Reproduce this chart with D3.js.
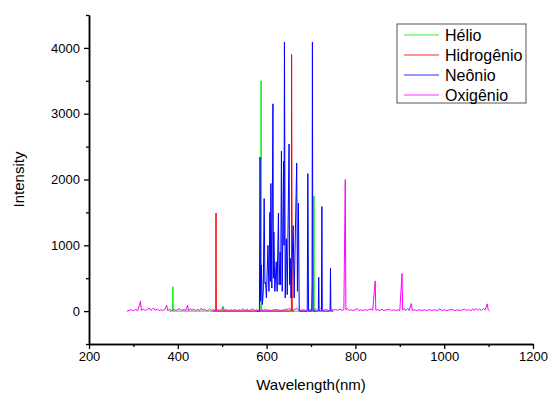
<!DOCTYPE html>
<html>
<head>
<meta charset="utf-8">
<script src="https://cdn.jsdelivr.net/npm/d3@7"></script>
<style>
body { margin: 0; background: #fff; }
text { font-family: Arial, "Liberation Sans", sans-serif; fill: #000; }
</style>
</head>
<body>
<svg id="mainSvg" width="557" height="406"></svg>
<script>
// spectra: [wavelength (nm), intensity]
var helio = [[380,0],[388.3,0],[388.9,370],[389.5,0],[501.0,0],[501.6,75],[502.2,0],
  [587.0,0],[587.6,3500],[588.2,0],[705.9,0],[706.5,1750],[707.1,0],[712,0]];

var hidrogenio = [[478,0],[485.5,0],[485.8,1150],[486.1,1490],[486.7,0],
  [655.8,0],[656.3,3900],[657.3,1250],[657.8,0],[662,0]];

var neonio = [[578,0],[583.8,0],[585.2,2340],[586.4,150],[588.2,700],[590.6,100],[592.5,300],
  [594.5,1710],[596.2,420],[597.6,440],[599.6,200],[603.0,1000],[605.3,300],[607.4,1500],
  [608.5,450],[609.6,1940],[611.8,350],[614.3,3150],[615.3,500],[616.4,1200],[618.5,300],
  [621.7,750],[623.7,300],[626.6,1490],[628.2,400],[630.5,900],[631.7,400],[633.4,2430],
  [635.2,300],[638.3,2280],[639.2,1000],[640.2,4090],[642.0,200],[644.5,1100],[646.5,250],
  [650.6,2540],[651.8,400],[653.3,800],[655.0,200],[659.9,1300],[662.0,200],[667.8,2250],
  [669.5,300],[671.7,1640],[673.5,0],[691.5,0],[692.9,2090],[694.5,0],[701.5,0],[702.4,420],
  [703.2,4090],[704.3,0],[716.5,0],[717.4,515],[718.3,0],[723.6,0],[724.5,1590],[725.4,0],
  [743.0,0],[743.9,650],[744.8,0],[750,0]];

var oxigenio = [[285,0],[290,8],[295,20],[300,5],[305,25],[310,10],[316,150],[318,10],[322,30],
  [327,8],[331,25],[336,45],[339,10],[343,35],[346,45],[349,10],[354,30],[358,8],[362,20],
  [366,10],[371,25],[375,90],[377,10],[382,30],[386,8],[392,25],[396,10],[401,30],[405,35],
  [409,10],[414,25],[418,8],[422,90],[424,10],[428,35],[432,15],[436,30],[440,8],[444,25],
  [449,10],[453,45],[456,15],[460,30],[465,8],[469,20],[472,35],[476,10],[480,25],[484,8],
  [490,20],[495,10],[499,35],[503,50],[505,10],[510,25],[514,8],[519,20],[524,10],[528,25],
  [533,8],[538,20],[542,10],[547,35],[551,10],[556,25],[560,8],[565,20],[569,35],[573,10],
  [578,20],[582,5],[590,15],[600,20],[610,10],[620,25],[630,10],[640,20],[650,35],[660,20],
  [668,40],[675,10],[683,20],[690,8],[698,25],[704,10],[710,35],[714,10],[720,40],[728,15],
  [735,20],[740,10],[746,30],[750,15],[755,25],[760,10],[765,30],[770,10],[774,25],
  [777.2,2000],[778.5,20],[782,35],[786,10],[790,20],[795,8],[800,25],[804,35],[808,10],
  [813,20],[817,8],[821,25],[825,10],[830,20],[836,35],[839,10],[844.6,460],[846,15],
  [850,20],[855,8],[860,30],[864,10],[870,20],[877,30],[881,8],[886,20],[891,10],[896,20],
  [900,8],[905,570],[906.5,15],[910,40],[913,10],[918,40],[921,10],[926,115],[928,10],
  [933,20],[938,8],[944,20],[950,10],[956,20],[961,8],[967,25],[972,10],[978,20],[984,8],
  [990,30],[995,10],[1000,20],[1006,8],[1012,20],[1018,25],[1024,8],[1030,20],[1036,10],
  [1041,20],[1046,30],[1050,10],[1055,20],[1060,8],[1065,35],[1068,10],[1072,40],[1076,10],
  [1080,35],[1084,10],[1088,40],[1092,15],[1097,110],[1099,20],[1102,0]];

var seriesNames = ["Hélio", "Hidrogênio", "Neônio", "Oxigênio"];
var seriesData = [helio, hidrogenio, neonio, oxigenio];
var seriesColors = ["#00ee00", "#ff0000", "#0000ff", "#ff00ff"];

var xTickValues = [200, 400, 600, 800, 1000, 1200];
var xMinorTicks = [300, 500, 700, 900, 1100];
var yTickValues = [0, 1000, 2000, 3000, 4000];
var yMinorTicks = [-500, 500, 1500, 2500, 3500, 4500];

// plot area
var plotLeft = 89, plotRight = 533, plotTop = 15, plotBottom = 344;

var x = d3.scaleLinear().domain([200, 1200]).range([plotLeft, plotRight]);
var y = d3.scaleLinear().domain([-500, 4500]).range([plotBottom, plotTop]);

var svg = d3.select("#mainSvg");

var line = d3.line()
	.x(function(d) { return x(d[0]); })
	.y(function(d) { return y(d[1]); });

svg.selectAll(".spectrum")
	.data(seriesData)
	.enter()
	.append("path")
	.attr("class", "spectrum")
	.attr("d", line)
	.attr("fill", "none")
	.attr("stroke", function(d, i) { return seriesColors[i]; })
	.attr("stroke-width", 1);

// x axis
var xAxisG = svg.append("g")
	.attr("transform", "translate(0," + plotBottom + ")")
	.call(d3.axisBottom(x).tickValues(xTickValues).tickFormat(d3.format("d"))
		.tickSize(5).tickPadding(3).tickSizeOuter(0));
xAxisG.append("g")
	.call(d3.axisBottom(x).tickValues(xMinorTicks).tickSize(3).tickFormat("").tickSizeOuter(0));

// y axis
var yAxisG = svg.append("g")
	.attr("transform", "translate(" + plotLeft + ",0)")
	.call(d3.axisLeft(y).tickValues(yTickValues).tickFormat(d3.format("d"))
		.tickSize(5).tickPadding(4).tickSizeOuter(0));
yAxisG.append("g")
	.call(d3.axisLeft(y).tickValues(yMinorTicks).tickSize(3).tickFormat("").tickSizeOuter(0));

svg.selectAll(".domain").attr("stroke", "#000").attr("stroke-width", 1.5);
svg.selectAll(".tick line").attr("stroke", "#000").attr("stroke-width", 1.3);
svg.selectAll(".tick text")
	.style("font-family", "Arial, 'Liberation Sans', sans-serif")
	.style("font-size", "13px")
	.attr("fill", "#000");

// axis titles
svg.append("text")
	.attr("x", (plotLeft + plotRight) / 2)
	.attr("y", 390)
	.style("text-anchor", "middle")
	.style("font-size", "15px")
	.text("Wavelength(nm)");

svg.append("text")
	.attr("transform", "translate(24," + ((plotTop + plotBottom) / 2) + ") rotate(-90)")
	.style("text-anchor", "middle")
	.style("font-size", "15px")
	.text("Intensity");

// legend
var legend = svg.append("g").attr("transform", "translate(397,24)");
legend.append("rect")
	.attr("width", 129)
	.attr("height", 79)
	.attr("fill", "#fff")
	.attr("stroke", "#555")
	.attr("stroke-width", 1);

var items = legend.selectAll(".legendItem")
	.data(seriesNames)
	.enter()
	.append("g")
	.attr("class", "legendItem")
	.attr("transform", function(d, i) { return "translate(0," + (11 + i * 20) + ")"; });

items.append("line")
	.attr("x1", 7).attr("x2", 42)
	.attr("y1", 0).attr("y2", 0)
	.attr("stroke", function(d, i) { return seriesColors[i]; })
	.attr("stroke-opacity", 0.55)
	.attr("stroke-width", 1.5);

items.append("text")
	.attr("x", 48)
	.attr("y", 5.5)
	.style("font-size", "16px")
	.text(function(d) { return d; });
</script>
</body>
</html>
